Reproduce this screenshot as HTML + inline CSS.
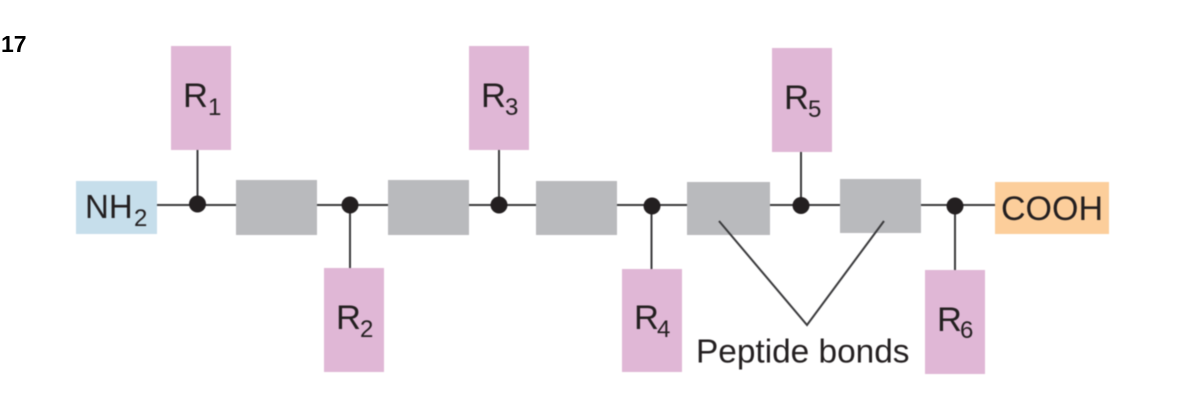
<!DOCTYPE html>
<html>
<head>
<meta charset="utf-8">
<style>
html,body{margin:0;padding:0;background:#fff;width:1180px;height:408px;overflow:hidden}
svg{display:block}
text{font-family:"Liberation Sans",Arial,sans-serif;fill:#231f20}
</style>
</head>
<body>
<svg width="1180" height="408" viewBox="0 0 1180 408" xmlns="http://www.w3.org/2000/svg">
<rect width="1180" height="408" fill="#fff"/>
<g style="filter:blur(0.4px)">
<g stroke="#3a3a3c" stroke-width="2">
<line x1="157" y1="205" x2="236" y2="205"/>
<line x1="317" y1="205" x2="388" y2="205"/>
<line x1="469" y1="205" x2="536" y2="205"/>
<line x1="617" y1="205" x2="687" y2="205"/>
<line x1="770" y1="205" x2="840" y2="205"/>
<line x1="921" y1="205" x2="995" y2="205"/>
<line x1="197.500" y1="150" x2="197.500" y2="204"/>
<line x1="350" y1="205" x2="350" y2="268"/>
<line x1="499" y1="150" x2="499" y2="205"/>
<line x1="651.500" y1="206" x2="651.500" y2="269"/>
<line x1="801" y1="152" x2="801" y2="205"/>
<line x1="955" y1="206" x2="955" y2="270"/>
</g>
<g fill="#e0b7d6">
<rect x="171" y="46" width="60" height="104"/>
<rect x="469" y="46" width="60" height="104"/>
<rect x="772" y="48" width="60" height="104"/>
<rect x="324" y="268" width="60" height="104"/>
<rect x="622" y="269" width="60" height="103"/>
<rect x="925" y="270" width="60" height="104"/>
</g>
<g fill="#b9babd">
<rect x="236" y="180" width="81" height="55"/>
<rect x="388" y="180" width="81" height="55"/>
<rect x="536" y="181" width="81" height="54"/>
<rect x="687" y="182" width="83" height="53"/>
<rect x="840" y="179" width="81" height="54"/>
</g>
<rect x="76" y="181" width="81" height="53" fill="#c6deeb"/>
<rect x="995" y="182" width="114" height="52" fill="#fcce9b"/>
<g fill="#231f20">
<circle cx="197.500" cy="204" r="8.500"/>
<circle cx="350" cy="205" r="8.500"/>
<circle cx="499" cy="205" r="8.500"/>
<circle cx="652" cy="206" r="8.500"/>
<circle cx="801" cy="205.500" r="8.500"/>
<circle cx="955" cy="206" r="8.500"/>
</g>
<polyline points="719,221 807,325 884,221" fill="none" stroke="#3a3a3c" stroke-width="2"/>
<text x="183" y="107" font-size="34.500">R</text><text x="208" y="115" font-size="24">1</text>
<text x="481" y="107" font-size="34.500">R</text><text x="505" y="115" font-size="24">3</text>
<text x="784" y="109" font-size="34.500">R</text><text x="808" y="117" font-size="24">5</text>
<text x="336" y="329" font-size="34.500">R</text><text x="360" y="337" font-size="24">2</text>
<text x="634" y="329" font-size="34.500">R</text><text x="657" y="337" font-size="24">4</text>
<text x="937" y="331" font-size="34.500">R</text><text x="960" y="338" font-size="24">6</text>
<text x="85" y="218" font-size="33">NH</text><text x="134" y="226" font-size="24">2</text>
<text x="1001" y="220" font-size="34">COOH</text>
<text x="696" y="362.500" font-size="33.400">Peptide bonds</text>
</g>
<text x="1" y="52" font-size="23" font-weight="bold" style="fill:#000">17</text>
</svg>
</body>
</html>
